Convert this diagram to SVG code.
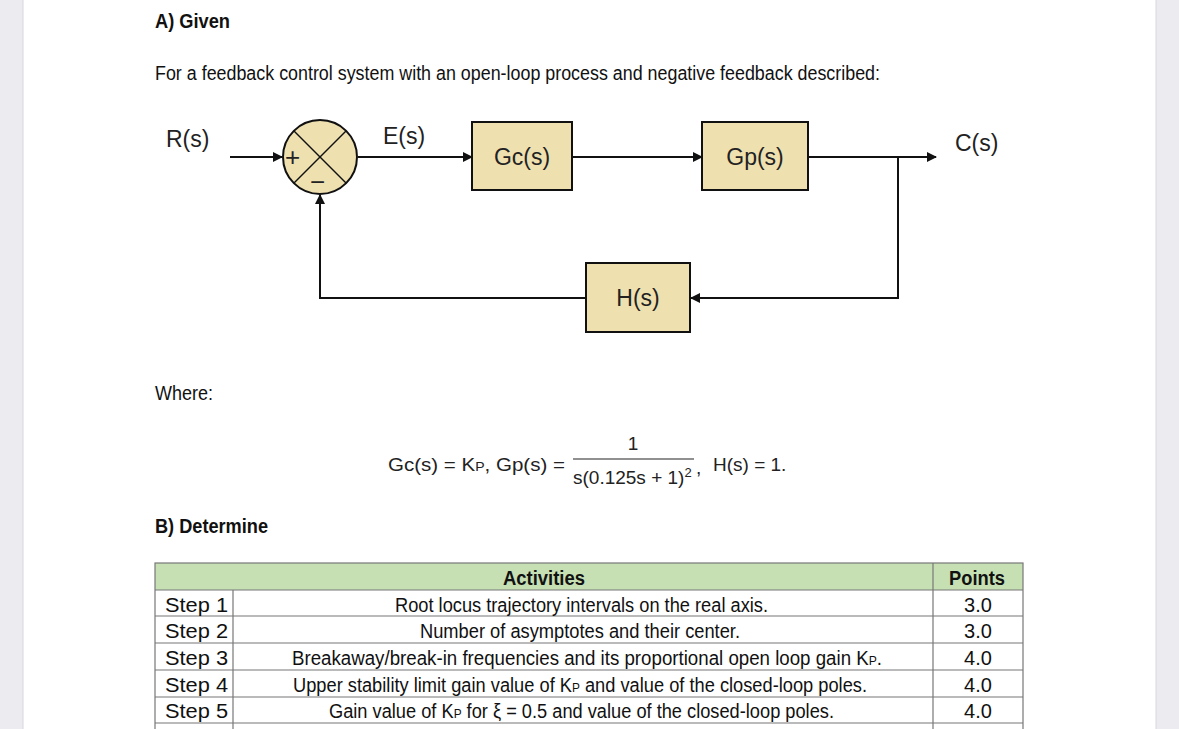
<svg xmlns="http://www.w3.org/2000/svg" width="1179" height="729" viewBox="0 0 1179 729">
<defs>
<style>
.t{font-family:"Liberation Sans",Arial,sans-serif;fill:#111}
.b{font-family:"Liberation Sans",Arial,sans-serif;fill:#222}
.box{fill:#efe0b0;stroke:#111;stroke-width:2}
.ln{stroke:#111;stroke-width:2;fill:none}
.g{stroke:#777;stroke-width:1.2;fill:none}
</style>
<marker id="a" viewBox="0 0 10 10" refX="9" refY="5" markerWidth="5" markerHeight="5" orient="auto"><path d="M0,0L10,5L0,10z" fill="#111"/></marker>
</defs>
<rect width="1179" height="729" fill="#ececf0"/>
<rect x="23" y="0" width="1133" height="729" fill="#fff"/>
<line x1="23" y1="0" x2="23" y2="729" stroke="#d8d8dc"/>
<line x1="1156" y1="0" x2="1156" y2="729" stroke="#d8d8dc"/>
<text class="t" x="155" y="28" font-size="20" font-weight="bold" textLength="75" lengthAdjust="spacingAndGlyphs">A) Given</text>
<text class="t" x="155" y="80" font-size="20" textLength="725" lengthAdjust="spacingAndGlyphs">For a feedback control system with an open-loop process and negative feedback described:</text>
<g id="connectors">
<line class="ln" x1="230" y1="157" x2="282" y2="157" marker-end="url(#a)"/>
<line class="ln" x1="358" y1="157" x2="472" y2="157" marker-end="url(#a)"/>
<line class="ln" x1="572" y1="157" x2="702" y2="157" marker-end="url(#a)"/>
<line class="ln" x1="808" y1="157" x2="936" y2="157" marker-end="url(#a)"/>
<polyline class="ln" points="898,157 898,298 691,298" marker-end="url(#a)"/>
<polyline class="ln" points="586,298 320,298 320,195" marker-end="url(#a)"/>
</g>
<g id="sum">
<circle cx="320" cy="157" r="37" fill="#efe0b0" stroke="#111" stroke-width="2"/>
<line x1="294" y1="131" x2="346" y2="183" stroke="#111" stroke-width="1.5"/>
<line x1="346" y1="131" x2="294" y2="183" stroke="#111" stroke-width="1.5"/>
<text class="b" x="285" y="166" font-size="26">+</text>
<text class="b" x="310" y="191" font-size="26">−</text>
</g>
<text class="b" x="166" y="147" font-size="23">R(s)</text>
<text class="b" x="383" y="144" font-size="23">E(s)</text>
<text class="b" x="955" y="151" font-size="23">C(s)</text>
<g id="gc"><rect class="box" x="472" y="122" width="100" height="68"/><text class="b" x="522" y="165" font-size="23" text-anchor="middle">Gc(s)</text></g>
<g id="gp"><rect class="box" x="702" y="122" width="106" height="68"/><text class="b" x="755" y="165" font-size="23" text-anchor="middle">Gp(s)</text></g>
<g id="h"><rect class="box" x="586" y="263" width="104" height="69"/><text class="b" x="638" y="306" font-size="23" text-anchor="middle">H(s)</text></g>
<text class="t" x="155" y="400" font-size="20" textLength="58" lengthAdjust="spacingAndGlyphs">Where:</text>
<g class="b" font-size="19">
<text x="388" y="471" textLength="177" lengthAdjust="spacingAndGlyphs">Gc(s) = K<tspan font-size="13">P</tspan>,  Gp(s) =</text>
<text x="633" y="450" text-anchor="middle">1</text>
<line x1="573" y1="459" x2="694" y2="459" stroke="#222" stroke-width="1.2"/>
<text x="573" y="484">s(0.125s + 1)<tspan font-size="13" dy="-7">2</tspan></text>
<text x="696" y="474">,</text>
<text x="713" y="471">H(s) = 1.</text>
</g>
<text class="t" x="155" y="533" font-size="20" font-weight="bold" textLength="113" lengthAdjust="spacingAndGlyphs">B) Determine</text>
<g id="table">
<rect x="155" y="563" width="868" height="27" fill="#c6e0b4"/>
<g class="g">
<rect x="155" y="563" width="868" height="170"/>
<line x1="155" y1="590" x2="1023" y2="590"/>
<line x1="155" y1="616" x2="1023" y2="616"/>
<line x1="155" y1="643" x2="1023" y2="643"/>
<line x1="155" y1="670" x2="1023" y2="670"/>
<line x1="155" y1="697" x2="1023" y2="697"/>
<line x1="155" y1="723" x2="1023" y2="723"/>
<line x1="233" y1="590" x2="233" y2="729"/>
<line x1="933" y1="563" x2="933" y2="729"/>
</g>
<g class="t" font-size="20" lengthAdjust="spacingAndGlyphs">
<text x="503" y="585" font-weight="bold" textLength="82" lengthAdjust="spacingAndGlyphs">Activities</text>
<text x="949" y="585" font-weight="bold" textLength="56" lengthAdjust="spacingAndGlyphs">Points</text>
<text x="165" y="612" textLength="63" lengthAdjust="spacingAndGlyphs">Step 1</text><text x="395" y="612" textLength="373" lengthAdjust="spacingAndGlyphs">Root locus trajectory intervals on the real axis.</text><text x="978" y="612" text-anchor="middle">3.0</text>
<text x="165" y="638" textLength="63" lengthAdjust="spacingAndGlyphs">Step 2</text><text x="420" y="638" textLength="320" lengthAdjust="spacingAndGlyphs">Number of asymptotes and their center.</text><text x="978" y="638" text-anchor="middle">3.0</text>
<text x="165" y="665" textLength="63" lengthAdjust="spacingAndGlyphs">Step 3</text><text x="292" y="665" textLength="590" lengthAdjust="spacingAndGlyphs">Breakaway/break-in frequencies and its proportional open loop gain K<tspan font-size="13">P</tspan>.</text><text x="978" y="665" text-anchor="middle">4.0</text>
<text x="165" y="692" textLength="63" lengthAdjust="spacingAndGlyphs">Step 4</text><text x="293" y="692" textLength="574" lengthAdjust="spacingAndGlyphs">Upper stability limit gain value of K<tspan font-size="13">P</tspan> and value of the closed-loop poles.</text><text x="978" y="692" text-anchor="middle">4.0</text>
<text x="165" y="718" textLength="63" lengthAdjust="spacingAndGlyphs">Step 5</text><text x="329" y="718" textLength="505" lengthAdjust="spacingAndGlyphs">Gain value of K<tspan font-size="13">P</tspan> for ξ = 0.5 and value of the closed-loop poles.</text><text x="978" y="718" text-anchor="middle">4.0</text>
</g>
</g>
</svg>
